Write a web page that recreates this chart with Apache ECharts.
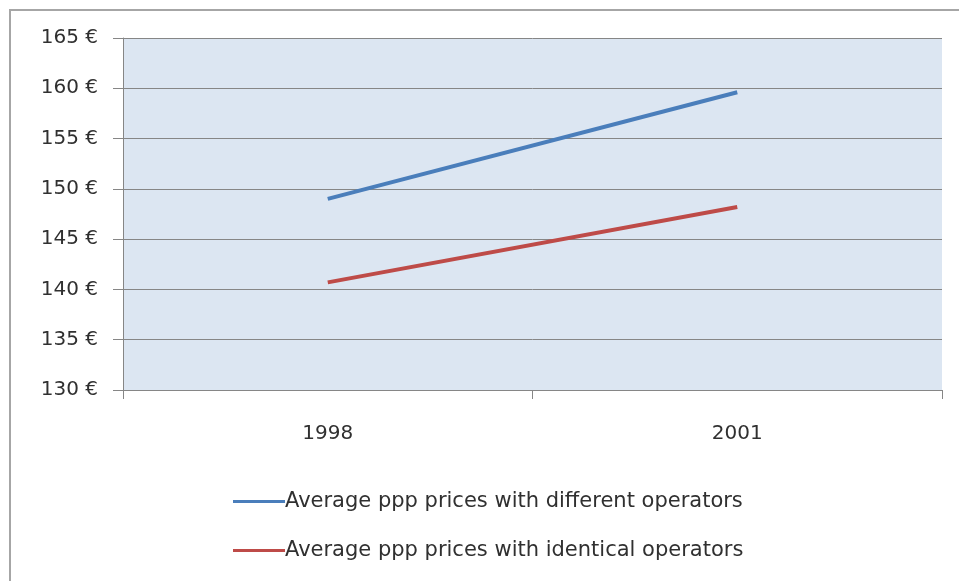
<!DOCTYPE html>
<html>
<head>
<meta charset="utf-8">
<script src="https://cdn.jsdelivr.net/npm/echarts@6/dist/echarts.min.js"></script>
<style>
  html, body { margin: 0; padding: 0; background: #fff; }
  #chart { width: 959px; height: 581px; }
</style>
</head>
<body>
<div id="chart"></div>
<script>
// data
const years = ['1998', '2001'];
const differentOps = [149.0, 159.6];
const identicalOps = [140.7, 148.2];
const seriesNames = [
  'Average ppp prices with different operators',
  'Average ppp prices with identical operators'
];

const chart = echarts.init(document.getElementById('chart'));
const textFont = 'DejaVu Sans';
const textColor = '#303030';
const gridColor = '#868686';

const option = {
  backgroundColor: '#ffffff',
  animation: false,
  graphic: [{
    type: 'rect',
    shape: { x: 10, y: 10, width: 1000, height: 620 },
    style: { fill: 'none', stroke: '#a6a6a6', lineWidth: 2 },
    silent: true
  }],
  grid: {
    left: 123, right: 17, top: 38, bottom: 191,
    show: true,
    backgroundColor: '#dce6f2',
    borderWidth: 0
  },
  legend: {
    orient: 'vertical',
    left: 228,
    top: 486,
    itemWidth: 52,
    itemHeight: 3,
    itemGap: 28,
    icon: 'rect',
    textStyle: { fontFamily: textFont, fontSize: 21, color: textColor, padding: [0, 0, 0, -5] },
    data: seriesNames
  },
  xAxis: {
    type: 'category',
    data: years,
    boundaryGap: true,
    axisLine: { lineStyle: { color: gridColor, width: 1 } },
    axisTick: { show: true, length: 9, lineStyle: { color: gridColor } },
    axisLabel: { margin: 34, fontFamily: textFont, fontSize: 20, color: textColor },
    splitLine: { show: false }
  },
  yAxis: {
    type: 'value',
    min: 130,
    max: 165,
    interval: 5,
    axisLine: { show: true, lineStyle: { color: gridColor, width: 1 } },
    axisTick: { show: true, length: 10, lineStyle: { color: gridColor } },
    axisLabel: {
      margin: 25,
      fontFamily: textFont,
      fontSize: 20,
      color: textColor,
      formatter: v => v + ' €'
    },
    splitLine: { show: true, lineStyle: { color: gridColor, width: 1 } }
  },
  series: [
    {
      name: seriesNames[0],
      type: 'line',
      data: differentOps,
      symbol: 'none',
      lineStyle: { color: '#4a7ebb', width: 4 },
      itemStyle: { color: '#4a7ebb' }
    },
    {
      name: seriesNames[1],
      type: 'line',
      data: identicalOps,
      symbol: 'none',
      lineStyle: { color: '#be4b48', width: 4 },
      itemStyle: { color: '#be4b48' }
    }
  ]
};

chart.setOption(option);
</script>
</body>
</html>
